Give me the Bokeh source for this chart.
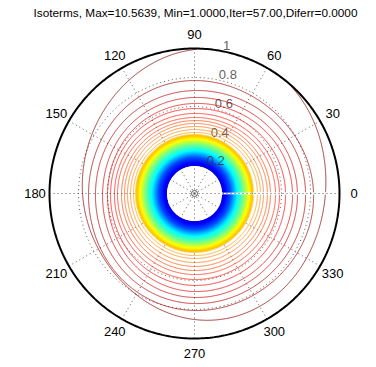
import numpy as np
from bokeh.plotting import figure
from bokeh.models import Range1d, Label
from bokeh.embed import file_html
from bokeh.resources import INLINE
from bokeh.core.properties import value

# ---------------- data ----------------
title_text = "Isoterms, Max=10.5639, Min=1.0000,Iter=57.00,Diferr=0.0000"
t_min, t_max = 1.0, 10.5639

angle_ticks = [0, 30, 60, 90, 120, 150, 180, 210, 240, 270, 300, 330]
angle_tick_labels = [str(a) for a in angle_ticks]
radial_ticks = [0.2, 0.4, 0.6, 0.8, 1.0]
radial_tick_labels = ["0.2", "0.4", "0.6", "0.8", "1"]

hole_radius = 0.195

# dense inner band of isotherms: radius -> temperature
band_radius = [0.195, 0.25, 0.30, 0.345, 0.38, 0.40]
band_level = [1.85, 2.9, 4.6, 5.8, 7.0, 7.5]

# discrete isotherms: level and radius sampled at 0,45,...,315 degrees
sample_angles = [0, 45, 90, 135, 180, 225, 270, 315]
contour_levels = [7.69, 7.91, 8.12, 8.34, 8.55, 8.76, 8.98,
                  9.19, 9.40, 9.62, 9.83, 10.04, 10.26, 10.47]
contour_radii = [
    [0.407, 0.407, 0.407, 0.407, 0.407, 0.407, 0.407, 0.407],
    [0.434, 0.428, 0.421, 0.421, 0.421, 0.424, 0.428, 0.431],
    [0.455, 0.448, 0.441, 0.441, 0.441, 0.445, 0.448, 0.452],
    [0.476, 0.469, 0.462, 0.462, 0.462, 0.469, 0.476, 0.476],
    [0.503, 0.493, 0.483, 0.483, 0.483, 0.493, 0.503, 0.503],
    [0.524, 0.514, 0.503, 0.503, 0.503, 0.517, 0.531, 0.528],
    [0.559, 0.541, 0.524, 0.528, 0.531, 0.545, 0.559, 0.559],
    [0.586, 0.569, 0.552, 0.552, 0.552, 0.572, 0.593, 0.590],
    [0.628, 0.607, 0.586, 0.583, 0.579, 0.607, 0.634, 0.631],
    [0.676, 0.648, 0.621, 0.610, 0.600, 0.638, 0.676, 0.676],
    [0.710, 0.686, 0.662, 0.648, 0.634, 0.676, 0.717, 0.714],
    [0.766, 0.738, 0.710, 0.697, 0.683, 0.721, 0.759, 0.762],
    [0.821, 0.786, 0.779, 0.755, 0.731, 0.769, 0.807, 0.814],
    [0.903, 0.990, 0.993, 0.855, 0.772, 0.779, 0.869, 0.897],
]

# ---------------- helpers ----------------
def jet(t):
    f = (t - t_min) / (t_max - t_min)
    r = np.clip(1.5 - abs(4 * f - 3), 0, 1)
    g = np.clip(1.5 - abs(4 * f - 2), 0, 1)
    b = np.clip(1.5 - abs(4 * f - 1), 0, 1)
    return "#%02x%02x%02x" % (int(r * 255), int(g * 255), int(b * 255))


def smooth_closed(samples, theta):
    s = np.asarray(samples, dtype=float)
    n = len(s)
    c = np.fft.rfft(s) / n
    r = np.full_like(theta, c[0].real)
    for m in range(1, n // 2 + 1):
        w = 1.0 if m < n / 2 else 0.5
        r = r + 2 * w * (c[m].real * np.cos(m * theta) - c[m].imag * np.sin(m * theta))
    return r


def split_runs(x, y, mask):
    segs = []
    cur_x, cur_y = [], []
    for xi, yi, ok in zip(x, y, mask):
        if ok:
            cur_x.append(xi)
            cur_y.append(yi)
        else:
            if len(cur_x) > 1:
                segs.append((cur_x, cur_y))
            cur_x, cur_y = [], []
    if len(cur_x) > 1:
        segs.append((cur_x, cur_y))
    return segs


SCALE = 145.0  # pixels per unit radius
p = figure(width=376, height=367,
           x_range=Range1d(-194 / SCALE, 182 / SCALE),
           y_range=Range1d(-174 / SCALE, 193 / SCALE),
           output_backend="svg", toolbar_location=None, min_border=0,
           x_axis_location=None, y_axis_location=None,
           outline_line_color=None, background_fill_color="white",
           border_fill_color="white")
p.grid.visible = False

FONT = value("Liberation Sans")
GRID_COLOR = "#5a5a5a"

# grid: dotted circles and spokes
th = np.linspace(0, 2 * np.pi, 400)
gx, gy = [], []
for rr in radial_ticks[:-1]:
    gx.append(list(rr * np.cos(th)))
    gy.append(list(rr * np.sin(th)))
for a in angle_ticks:
    ar = np.deg2rad(a)
    gx.append([0, np.cos(ar)])
    gy.append([0, np.sin(ar)])
p.multi_line(gx, gy, line_color=GRID_COLOR, line_width=1, line_dash="1 3")

# dense band (inner isotherms)
bx, by, bc = [], [], []
for rr in np.linspace(band_radius[0], band_radius[-1], 90):
    tval = np.interp(rr, band_radius, band_level)
    d = 1.25 / (SCALE * rr)
    t = np.linspace(d, 2 * np.pi - d, 500)
    bx.append(list(rr * np.cos(t)))
    by.append(list(rr * np.sin(t)))
    bc.append(jet(tval))
p.multi_line(bx, by, line_color=bc, line_width=1.3)

# radial labels at 82 degrees
a82 = np.deg2rad(82)
p.text(x=[(r + 0.01) * np.cos(a82) for r in radial_ticks],
       y=[(r + 0.01) * np.sin(a82) for r in radial_ticks],
       text=radial_tick_labels, text_align="left", text_baseline="bottom",
       x_offset=8, y_offset=2, text_font=FONT, text_font_size="13px",
       text_color="#333333", text_alpha=0.8)

# discrete isotherms
cx, cy, cc = [], [], []
for lev, samples in zip(contour_levels, contour_radii):
    d = 1.25 / (SCALE * samples[0])
    t = np.linspace(d, 2 * np.pi - d, 1440)
    r = smooth_closed(samples, t)
    x = r * np.cos(t)
    y = r * np.sin(t)
    for sx, sy in split_runs(x, y, r <= 0.995):
        cx.append(sx)
        cy.append(sy)
        cc.append(jet(lev))
p.multi_line(cx, cy, line_color=cc, line_width=0.9, line_alpha=0.85)

# outer circle
p.line(list(np.cos(th)), list(np.sin(th)), line_color="black", line_width=2)

# centre marker
p.scatter(x=[0], y=[0], marker="circle", size=6, fill_color=None,
          line_color="#555555", line_width=1)

# angle labels
p.text(x=[1.1 * np.cos(np.deg2rad(a)) for a in angle_ticks],
       y=[1.1 * np.sin(np.deg2rad(a)) for a in angle_ticks],
       text=angle_tick_labels, text_align="center", text_baseline="middle",
       text_font=FONT, text_font_size="13px", text_color="black")

# title
p.add_layout(Label(x=195, y=355, x_units="screen", y_units="screen",
                   text=title_text, text_align="center", text_baseline="middle",
                   text_font="Liberation Sans", text_font_size="11.8px", text_color="black"))

open("out.html", "w").write(file_html(p, INLINE))
